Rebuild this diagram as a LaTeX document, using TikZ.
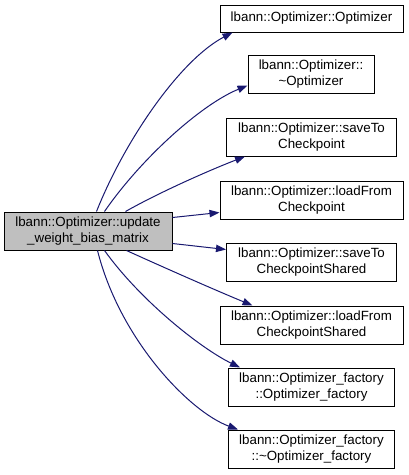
\documentclass[tikz,border=0pt]{standalone}
\usepackage{fontspec}
\setmainfont{Liberation Sans}
\usetikzlibrary{arrows.meta,calc}
\definecolor{edgeblue}{HTML}{191970}
\definecolor{boxgray}{HTML}{BFBFBF}
\begin{document}
\begin{tikzpicture}[x=0.75pt,y=-0.75pt,
  fn/.style={draw=black,line width=0.75pt,fill=white,rectangle,inner sep=0pt,align=center,font=\fontsize{10}{12}\selectfont},
  cur/.style={fn,fill=boxgray},
  call/.style={draw=edgeblue,line width=0.75pt,-{Triangle[length=7.5pt,width=5.5pt]},fill=none}]
\useasboundingbox (0,0) rectangle (408,475);
\node[cur,minimum width=168*0.75pt,minimum height=38*0.75pt] (g) at (88,231) {lbann::Optimizer::update\\\_weight\_bias\_matrix};
\node[fn,minimum width=183*0.75pt,minimum height=27*0.75pt] (b1) at (311.5,18.5) {lbann::Optimizer::Optimizer};
\node[fn,minimum width=126*0.75pt,minimum height=38*0.75pt] (b2) at (311,74) {lbann::Optimizer::\\\textasciitilde Optimizer};
\node[fn,minimum width=170*0.75pt,minimum height=38*0.75pt] (b3) at (311.5,137) {lbann::Optimizer::saveTo\\Checkpoint};
\node[fn,minimum width=183*0.75pt,minimum height=38*0.75pt] (b4) at (311.5,200) {lbann::Optimizer::loadFrom\\Checkpoint};
\node[fn,minimum width=170*0.75pt,minimum height=38*0.75pt] (b5) at (311.5,262) {lbann::Optimizer::saveTo\\CheckpointShared};
\node[fn,minimum width=183*0.75pt,minimum height=38*0.75pt] (b6) at (311.5,325) {lbann::Optimizer::loadFrom\\CheckpointShared};
\node[fn,minimum width=166*0.75pt,minimum height=38*0.75pt] (b7) at (311.5,387) {lbann::Optimizer\_factory\\::Optimizer\_factory};
\node[fn,minimum width=166*0.75pt,minimum height=38*0.75pt] (b8) at (311.5,449) {lbann::Optimizer\_factory\\::\textasciitilde Optimizer\_factory};
% connectors
\draw[call] ($(g.north west)+(93,0)$) .. controls (125,140) and (180,60) .. ($(b1.south west)+(13,0)$);
\draw[call] ($(g.north west)+(101,0)$) .. controls (140,160) and (200,105) .. ($(b2.south west)+(0,-8)$);
\draw[call] ($(g.north west)+(122,0)$) .. controls (160,192) and (210,170) .. ($(b3.south west)+(19,0)$);
\draw[call] ($(g.north east)+(0,6)$) -- ($(b4.south west)+(0,-7)$);
\draw[call] ($(g.south east)+(0,-7)$) -- ($(b5.north west)+(0,7)$);
\draw[call] ($(g.south west)+(123,0)$) .. controls (165,268) and (215,290) .. ($(b6.north west)+(33,0)$);
\draw[call] ($(g.south west)+(101,0)$) .. controls (140,300) and (200,348) .. ($(b7.north west)+(12,0)$);
\draw[call] ($(g.south west)+(94,0)$) .. controls (120,340) and (190,412) .. ($(b8.north west)+(10,0)$);
\end{tikzpicture}
\end{document}
